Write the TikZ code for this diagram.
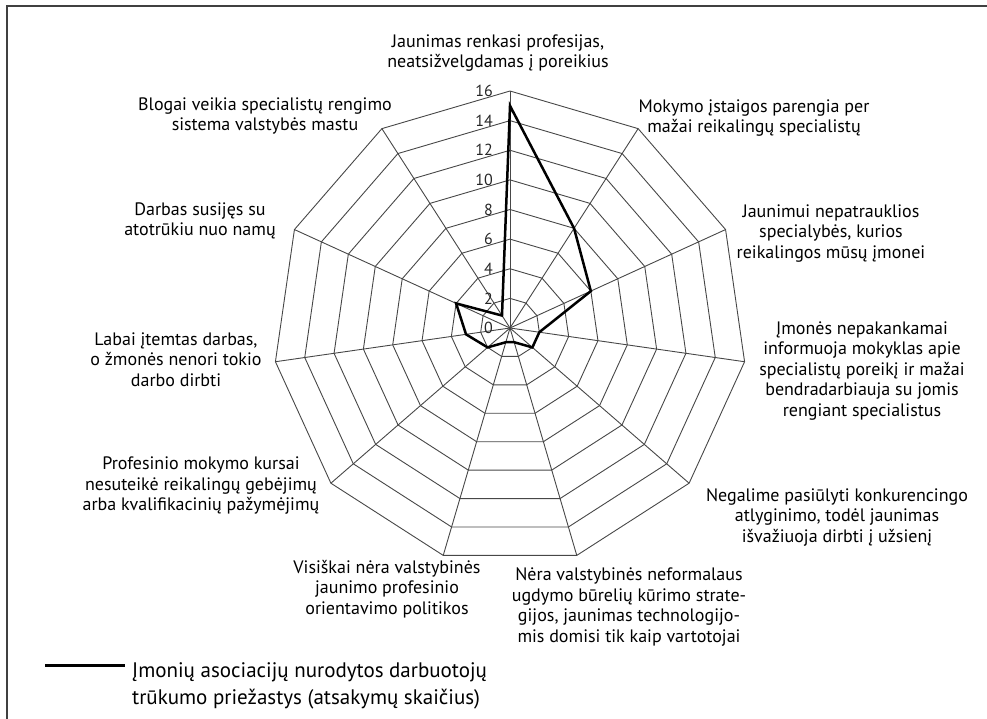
\documentclass[tikz,border=0pt]{standalone}
\usepackage{fontspec}
\setmainfont{PT Sans}
\usetikzlibrary{calc}
\begin{document}
\begin{tikzpicture}[x=1pt,y=-1pt,
  gridline/.style={draw=black!72, line width=0.9pt},
  dataline/.style={draw=black, line width=2.5pt, line join=miter},
  lbl/.style={align=center, font=\fontsize{18}{20.5}\selectfont, inner sep=0pt},
  legendtext/.style={align=left, anchor=west, font=\fontsize{21}{27.5}\selectfont, inner sep=0pt},
  ticklbl/.style={anchor=east, font=\fontsize{16}{16}\selectfont, inner sep=0pt, text=black!85}]
\useasboundingbox (0,0) rectangle (987,718);
\draw[black!75, line width=1.2pt] (7,720) -- (7,6) -- (990,6);
\coordinate (c) at (510,328);
% axis end points
\foreach \k in {0,...,10}
  \coordinate (ax\k) at ($(c)+(\k*360/11-90:237)$);
% rings
\foreach \i in {1,...,8} {
  \draw[gridline] ($(c)+(-90:\i*237/8)$)
    \foreach \k in {1,...,10} { -- ($(c)+(\k*360/11-90:\i*237/8)$) } -- cycle;
}
% axes
\foreach \k in {0,...,10}
  \draw[gridline] (c) -- (ax\k);
% tick labels
\foreach \i/\t in {0/0,1/2,2/4,3/6,4/8,5/10,6/12,7/14,8/16}
  \node[ticklbl] (tk\i) at (493,{328-\i*237/8}) {\t};
% data
\foreach \v [count=\k from 0] in {15,8,6,2,2,1,1,2,3,4,1}
  \coordinate (d\k) at ($(c)+(\k*360/11-90:\v*237/16)$);
\draw[dataline] (d0) -- (d1) -- (d2) -- (d3) -- (d4) -- (d5) -- (d6) -- (d7) -- (d8) -- (d9) -- (d10) -- cycle;
% category labels
\node[lbl] (l0) at (498,53) {Jaunimas renkasi profesijas,\\neatsižvelgdamas į poreikius};
\node[lbl] (l1) at (754,118) {Mokymo įstaigos parengia per\\mažai reikalingų specialistų};
\node[lbl] (l2) at (831,233.5) {Jaunimui nepatrauklios\\specialybės, kurios\\reikalingos mūsų įmonei};
\node[lbl] (l3) at (862,371) {Įmonės nepakankamai\\informuoja mokyklas apie\\specialistų poreikį ir mažai\\bendradarbiauja su jomis\\rengiant specialistus};
\node[lbl] (l4) at (837,517) {Negalime pasiūlyti konkurencingo\\atlyginimo, todėl jaunimas\\išvažiuoja dirbti į užsienį};
\node[lbl] (l5) at (629,607) {Nėra valstybinės neformalaus\\ugdymo būrelių kūrimo strate-\\gijos, jaunimas technologijo-\\mis domisi tik kaip vartotojai};
\node[lbl] (l6) at (387,589) {Visiškai nėra valstybinės\\jaunimo profesinio\\orientavimo politikos};
\node[lbl] (l7) at (201,486) {Profesinio mokymo kursai\\nesuteikė reikalingų gebėjimų\\arba kvalifikacinių pažymėjimų};
\node[lbl] (l8) at (176,359.5) {Labai įtemtas darbas,\\o žmonės nenori tokio\\darbo dirbti};
\node[lbl] (l9) at (200,221) {Darbas susijęs su\\atotrūkiu nuo namų};
\node[lbl] (l10) at (265,116) {Blogai veikia specialistų rengimo\\sistema valstybės mastu};
% legend
\coordinate (lg1) at (45,665);
\coordinate (lg2) at (125,665);
\draw[black, line width=3pt] (lg1) -- (lg2);
\node[legendtext] (lgt) at (132,686) {Įmonių asociacijų nurodytos darbuotojų\\trūkumo priežastys (atsakymų skaičius)};
\end{tikzpicture}
\end{document}
